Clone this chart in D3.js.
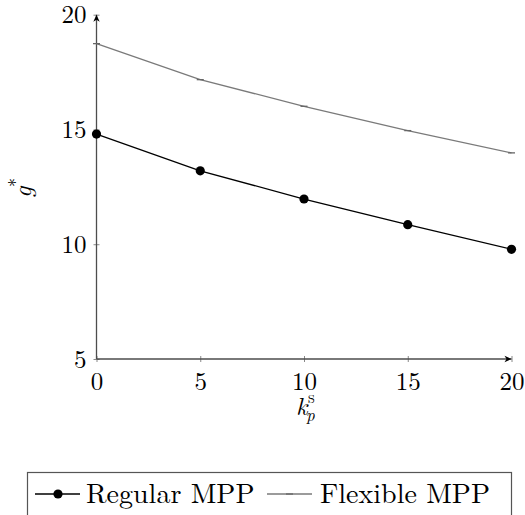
<!DOCTYPE html>
<html><head><meta charset="utf-8">
<script src="https://cdn.jsdelivr.net/npm/d3@7"></script>
<style>body{margin:0;background:#fff} svg{display:block}</style>
</head><body>
<script>
const xValues = [0, 5, 10, 15, 20];
const regularMPP = [14.80, 13.20, 11.97, 10.85, 9.78];
const flexibleMPP = [18.74, 17.17, 16.01, 14.95, 13.98];
const xTicks = [0, 5, 10, 15, 20];
const yTicks = [5, 10, 15, 20];
const seriesNames = ["Regular MPP", "Flexible MPP"];

const W = 525, H = 515;
const FONT = '"Latin Modern Roman", "Liberation Serif", "Times New Roman"';
const svg = d3.select("body").append("svg").attr("width", W).attr("height", H);

const x = d3.scaleLinear().domain([0, 20]).range([96.5, 511.5]);
const y = d3.scaleLinear().domain([5, 20]).range([359, 14.7]);

const defs = svg.append("defs");
defs.append("marker").attr("id", "arrow")
  .attr("viewBox", "-8 -4 9 8").attr("refX", 0).attr("refY", 0)
  .attr("markerWidth", 9).attr("markerHeight", 8)
  .attr("markerUnits", "userSpaceOnUse").attr("orient", "auto")
  .append("path").attr("d", "M0,0 L-7,-3.2 L-5,0 L-7,3.2 Z").attr("fill", "#000");

const axisColor = "#4d4d4d";

// X axis
const gx = svg.append("g").attr("transform", `translate(0,${y(5)})`)
  .call(d3.axisBottom(x).tickValues(xTicks).tickFormat(d3.format("d")).tickSize(3));
gx.select(".domain").remove();
gx.selectAll(".tick line").attr("y1", -3).attr("y2", 3).attr("stroke", "#888");
gx.selectAll(".tick text").attr("y", 31).attr("dy", null)
  .style("font-family", FONT).style("font-size", "25px").attr("fill", "#000");

// Y axis
const gy = svg.append("g").attr("transform", `translate(${x(0)},0)`)
  .call(d3.axisLeft(y).tickValues(yTicks).tickFormat(d3.format("d")).tickSize(3));
gy.select(".domain").remove();
gy.selectAll(".tick line").attr("x1", -3).attr("x2", 3).attr("stroke", "#888");
gy.selectAll(".tick text").attr("dy", "0.33em").attr("x", -10)
  .style("font-family", FONT).style("font-size", "25px").attr("fill", "#000");

// axis lines with arrows
svg.append("line").attr("x1", x(0)).attr("x2", x(20)).attr("y1", y(5)).attr("y2", y(5))
  .attr("stroke", axisColor).attr("stroke-width", 1.3).attr("marker-end", "url(#arrow)");
svg.append("line").attr("x1", x(0)).attr("x2", x(0)).attr("y1", y(5)).attr("y2", y(20))
  .attr("stroke", axisColor).attr("stroke-width", 1.3).attr("marker-end", "url(#arrow)");

const line = d3.line().x((d, i) => x(xValues[i])).y(d => y(d));

// Flexible MPP
svg.append("path").datum(flexibleMPP).attr("d", line)
  .attr("fill", "none").attr("stroke", "#7a7a7a").attr("stroke-width", 1.3);
svg.append("g").selectAll("line").data(flexibleMPP).join("line")
  .attr("x1", (d, i) => x(xValues[i]) - 3.5).attr("x2", (d, i) => x(xValues[i]) + 3.5)
  .attr("y1", d => y(d)).attr("y2", d => y(d))
  .attr("stroke", "#666").attr("stroke-width", 1.3);

// Regular MPP
svg.append("path").datum(regularMPP).attr("d", line)
  .attr("fill", "none").attr("stroke", "#000").attr("stroke-width", 1.3);
svg.append("g").selectAll("circle").data(regularMPP).join("circle")
  .attr("cx", (d, i) => x(xValues[i])).attr("cy", d => y(d)).attr("r", 4.6).attr("fill", "#000");

// Axis labels
svg.append("text").attr("x", 296).attr("y", 415).style("font-family", FONT).style("font-size", "25px")
  .style("font-style", "italic").text("k");
svg.append("text").attr("x", 308).attr("y", 403).style("font-family", FONT).style("font-size", "17px").text("s");
svg.append("text").attr("x", 306).attr("y", 421).style("font-family", FONT).style("font-size", "17px")
  .style("font-style", "italic").text("p");

const yl = svg.append("g").attr("transform", "translate(31,198) rotate(-90)");
yl.append("text").attr("x", 0).attr("y", 0).style("font-family", FONT).style("font-size", "25px")
  .style("font-style", "italic").text("g");
yl.append("text").attr("x", 11).attr("y", -9).style("font-family", FONT).style("font-size", "18px").text("*");

// Legend
svg.append("rect").attr("x", 27.5).attr("y", 472.5).attr("width", 484).attr("height", 70)
  .attr("fill", "none").attr("stroke", "#555").attr("stroke-width", 1.2);
const lg = svg.append("g");
lg.append("line").attr("x1", 35).attr("x2", 80).attr("y1", 494).attr("y2", 494)
  .attr("stroke", "#000").attr("stroke-width", 1.3);
lg.append("circle").attr("cx", 58).attr("cy", 494).attr("r", 4.6).attr("fill", "#000");
lg.append("text").attr("x", 86).attr("y", 503).style("font-family", FONT).style("font-size", "28px").text(seriesNames[0]);
lg.append("line").attr("x1", 267).attr("x2", 312).attr("y1", 494).attr("y2", 494)
  .attr("stroke", "#7a7a7a").attr("stroke-width", 1.3);
lg.append("line").attr("x1", 286).attr("x2", 293).attr("y1", 494).attr("y2", 494)
  .attr("stroke", "#666").attr("stroke-width", 1.3);
lg.append("text").attr("x", 320).attr("y", 503).style("font-family", FONT).style("font-size", "28px").text(seriesNames[1]);
</script>
</body></html>
